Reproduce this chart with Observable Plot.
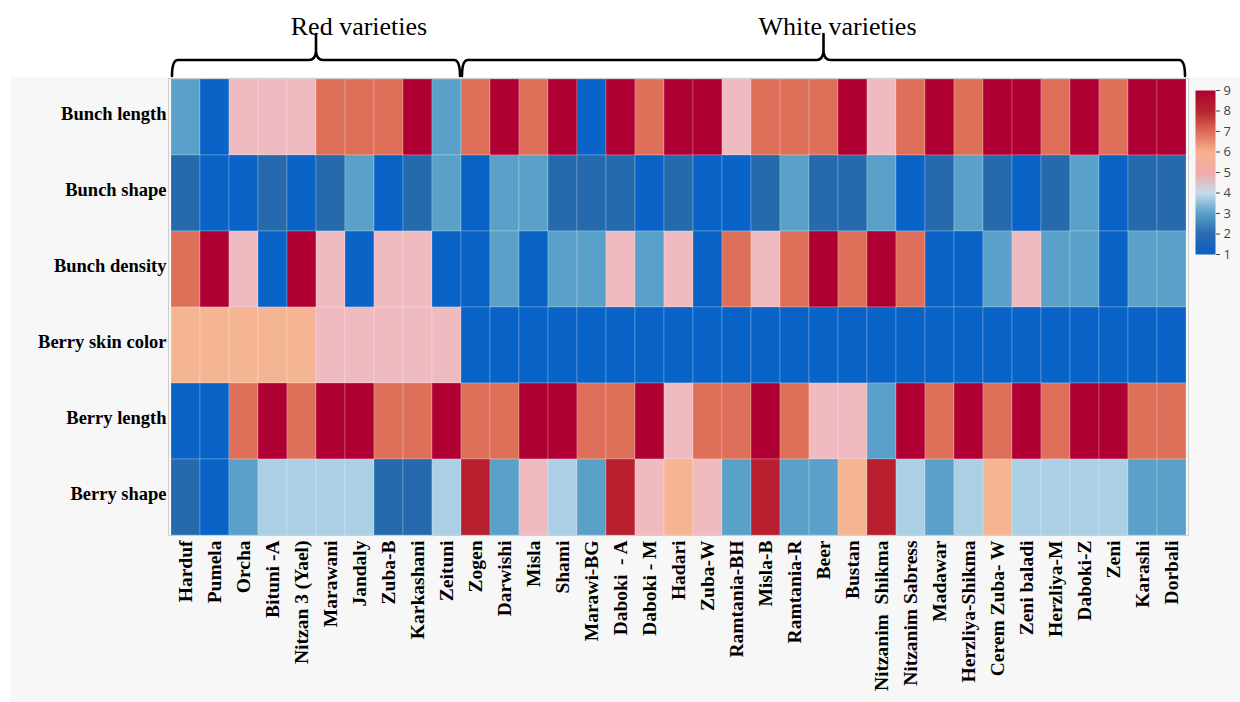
<!DOCTYPE html>
<html><head><meta charset="utf-8">
<script src="https://cdn.jsdelivr.net/npm/d3@7"></script>
<script src="https://cdn.jsdelivr.net/npm/@observablehq/plot@0.6"></script>
<style>
body{margin:0;background:#fff;}
#wrap{position:relative;width:1240px;height:702px;overflow:hidden;}
#panel{position:absolute;left:10px;top:77px;width:1230px;height:625px;background:#f7f7f7;}
#main{position:absolute;left:0;top:0;}
#legend{position:absolute;left:1190px;top:80px;}
</style></head><body>
<div id="wrap"><div id="panel"></div><div id="main"></div><div id="legend"></div></div>
<script>
const varieties = ["Harduf","Pumela","Orcha","Bituni -A","Nitzan 3 (Yael)","Marawani","Jandaly","Zuba-B","Karkashani","Zeituni",
  "Zogen","Darwishi","Misla","Shami","Marawi-BG","Daboki  - A","Daboki - M","Hadari","Zuba-W","Ramtania-BH","Misla-B","Ramtania-R",
  "Beer","Bustan","Nitzanim  Shikma","Nitzanim Sabress","Madawar","Herzliya-Shikma","Cerem Zuba- W","Zeni baladi","Herzliya-M",
  "Daboki-Z","Zeni","Karashi","Dorbali"];
const traits = ["Bunch length","Bunch shape","Bunch density","Berry skin color","Berry length","Berry shape"];
const bunchLength   = [3,1,5,5,5,7,7,7,9,3, 7,9,7,9,1,9,7,9,9,5,7,7,7,9,5,7,9,7,9,9,7,9,7,9,9];
const bunchShape    = [2,1,1,2,1,2,3,1,2,3, 1,3,3,2,2,2,1,2,1,1,2,3,2,2,3,1,2,3,2,1,2,3,1,2,2];
const bunchDensity  = [7,9,5,1,9,5,1,5,5,1, 1,3,1,3,3,5,3,5,1,7,5,7,9,7,9,7,1,1,3,5,3,3,1,3,3];
const berrySkin     = [6,6,6,6,6,5,5,5,5,5, 1,1,1,1,1,1,1,1,1,1,1,1,1,1,1,1,1,1,1,1,1,1,1,1,1];
const berryLength   = [1,1,7,9,7,9,9,7,7,9, 7,7,9,9,7,7,9,5,7,7,9,7,5,5,3,9,7,9,7,9,7,9,9,7,7];
const berryShape    = [2,1,3,4,4,4,4,2,2,4, 8,3,5,4,3,8,5,6,5,3,8,3,3,6,8,4,3,4,6,4,4,4,4,3,3];
const series = [bunchLength,bunchShape,bunchDensity,berrySkin,berryLength,berryShape];
const groups = [
  {name:"Red varieties", from:"Harduf", to:"Zeituni", textDx:43},
  {name:"White varieties", from:"Zogen", to:"Dorbali", textDx:14}
];
const scoreTicks  = [1,2,3,4,5,6,7,8,9];
const scoreColors = ["#0a64c8","#256aad","#5aa1ca","#abd0e5","#efbbc0","#f6b592","#de7059","#b71f2f","#b00033"];
const legendColors = ["#0b5fc6","#2a6bb0","#5aa0ca","#c4dcec","#f3a9ab","#f6b28f","#dc6b56","#b6252f","#b00030"];

const rows = [];
traits.forEach((t,i) => series[i].forEach((v,j) => rows.push({variety:varieties[j], trait:t, value:v})));

const serif = "'Liberation Serif','Times New Roman',serif";
const plot = Plot.plot({
  width:1240, height:702, marginLeft:168, marginRight:52, marginTop:78, marginBottom:167,
  style:{background:"transparent", overflow:"visible"},
  x:{domain:varieties, padding:0, label:null},
  y:{domain:traits, padding:0, label:null},
  color:{type:"linear", domain:scoreTicks, range:scoreColors},
  marks:[
    Plot.cell(rows,{x:"variety", y:"trait", fill:"value", stroke:"#fff", strokeOpacity:0.22, strokeWidth:1}),
    Plot.frame({stroke:"#cfcfcf"}),
    Plot.axisX({anchor:"bottom", tickRotate:-90, tickSize:0, tickPadding:5, fontSize:19.5, fontWeight:"bold", fontFamily:serif, fill:"#000", label:null}),
    Plot.axisY({anchor:"left", tickSize:0, tickPadding:2, dy:-3, fontSize:18.5, fontWeight:"bold", fontFamily:serif, fill:"#000", label:null})
  ]
});
document.getElementById("main").appendChild(plot);

// group brackets and titles, positioned from the x scale
const xs = plot.scale("x");
const svg = d3.select(plot);
const g = svg.append("g").attr("fill","none").attr("stroke","#000").attr("stroke-width",2.6).attr("stroke-linecap","round");
groups.forEach(gr => {
  const L = xs.apply(gr.from) + 1, R = xs.apply(gr.to) + xs.bandwidth - 1, C = (L+R)/2;
  const yH = 60, yB = 76, yT = 34;
  g.append("path").attr("d",
    `M${L},${yB} Q${L},${yH} ${L+6},${yH} H${C-7} Q${C-1},${yH} ${C},${yH-8} L${C},${yT} M${C},${yH-8} Q${C+1},${yH} ${C+7},${yH} H${R-6} Q${R},${yH} ${R},${yB}`);
  svg.append("text").attr("x", C + gr.textDx).attr("y", 35).attr("text-anchor","middle")
    .attr("font-family", serif).attr("font-size", 26).attr("fill","#000").text(gr.name);
});

const legend = Plot.plot({
  width:50, height:190, marginLeft:5, marginRight:25, marginTop:10, marginBottom:16,
  style:{background:"transparent", overflow:"visible"},
  x:{domain:[0,1], axis:null},
  y:{domain:[1,9], axis:null},
  color:{type:"linear", domain:scoreTicks, range:legendColors},
  marks:[
    Plot.raster({x1:0, x2:1, y1:1, y2:9, width:1, height:240, fill:(x,y) => y, imageRendering:"auto"}),
    Plot.axisY({anchor:"right", ticks:scoreTicks, tickSize:4, tickPadding:4, fontSize:13, fontFamily:"'Open Sans',sans-serif", color:"#444", label:null})
  ]
});
document.getElementById("legend").appendChild(legend);
</script>
</body></html>
